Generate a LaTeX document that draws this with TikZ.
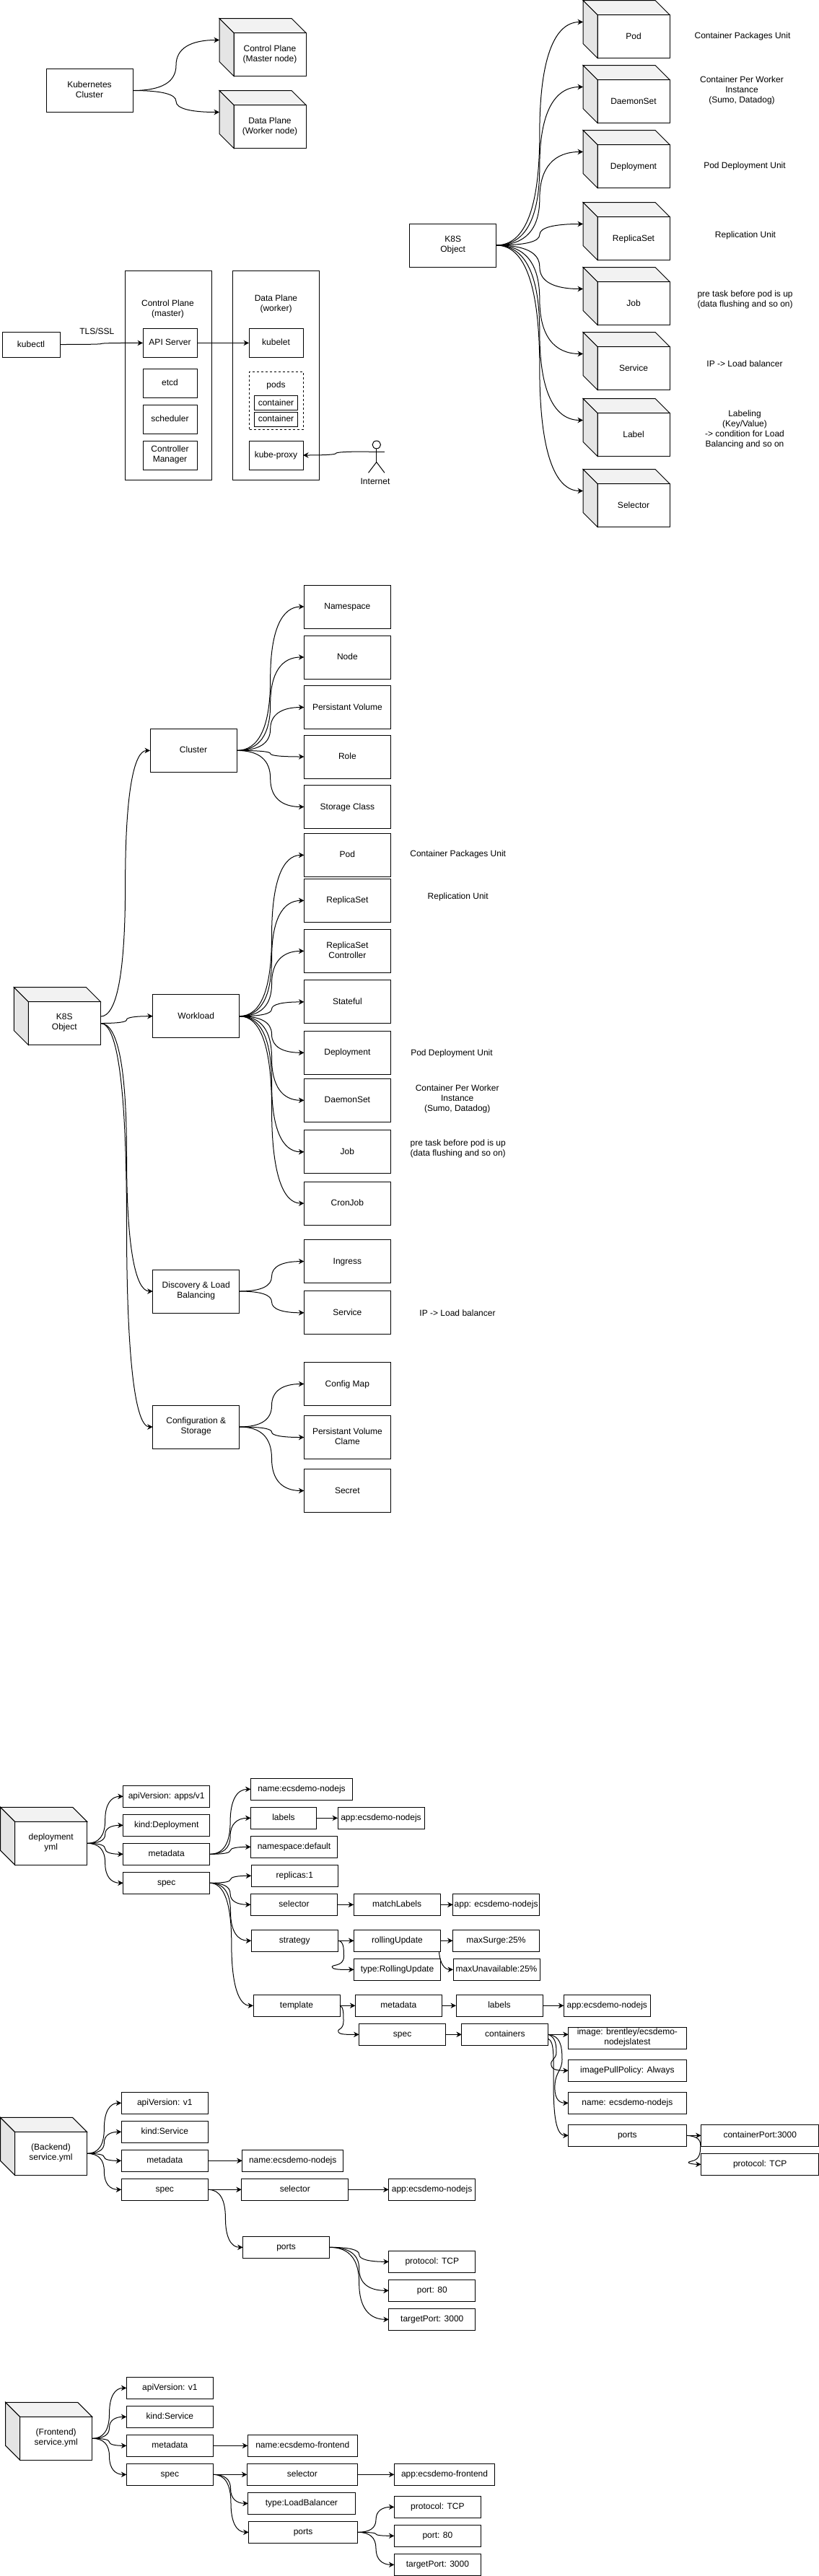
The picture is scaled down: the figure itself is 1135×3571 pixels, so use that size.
\documentclass[tikz,border=0pt]{standalone}
\usepackage{fontspec}
\setmainfont{Liberation Sans}
\usetikzlibrary{arrows.meta,positioning,calc}

\definecolor{cubeside}{gray}{0.9}
\definecolor{cubetop}{gray}{0.95}

\newcommand{\nodestrut}{\rule[-3.5pt]{0pt}{14pt}}

\tikzset{
    >={Stealth[length=7.5pt,width=7.5pt]},
    objbox/.style={rectangle, draw=black, line width=1pt, fill=white, align=center, anchor=north west,
        inner sep=0pt, outer sep=0pt, minimum width=120pt, minimum height=60pt},
    fieldbox/.style={objbox, minimum height=30pt},
    frontbox/.style={objbox, minimum width=100pt},
    notetext/.style={align=center},
    curvelink/.style={to path={
        let \p1=(\tikztostart), \p2=(\tikztotarget),
            \n1={0.5*(\x1+\x2)}, \n2={0.5*(\y1+\y2)} in
        .. controls ({\x1+0.667*(\n1-\x1)},\y1) and (\n1,{\n2+0.667*(\y1-\n2)}) .. (\n1,\n2)
        .. controls (\n1,{\n2+0.667*(\y2-\n2)}) and ({\x2+0.667*(\n1-\x2)},\y2) .. (\tikztotarget)}},
}

% side and top of a cube, around the front face #1
\newcommand{\cubefaces}[1]{
    \draw[fill=cubeside] (#1.north west) -- ++(-20pt,20pt) -- ++(0,-60pt) -- (#1.south west) -- cycle;
    \draw[fill=cubetop]  (#1.north west) -- ++(-20pt,20pt) -- ++(100pt,0) -- (#1.north east) -- cycle;
    \coordinate (#1_in) at ([shift={(-20pt,20pt)}]#1.west);
}

\begin{document}
\begin{tikzpicture}[x=1pt, y=-1pt, line width=1pt, every node/.style={font=\fontsize{12}{14}\selectfont,
        execute at begin node=\nodestrut, execute at end node=\nodestrut}]
    \useasboundingbox (0,0) rectangle (1135,3571);

    %Cluster overview
    \node (kube_cluster)      [objbox]   at (64,95.5)  {Kubernetes\\Cluster};
    \node (control_plane_cube) [frontbox] at (324,45.5) {Control Plane\\(Master node)};
    \node (data_plane_cube)   [frontbox, below=40pt of control_plane_cube] {Data Plane\\(Worker node)};
    \cubefaces{control_plane_cube}
    \cubefaces{data_plane_cube}
    \draw[->, curvelink] (kube_cluster.east) to (control_plane_cube_in);
    \draw[->, curvelink] (kube_cluster.east) to (data_plane_cube_in);

    %Master and worker
    \node (control_plane) [objbox, minimum height=290pt] at (173,375) {};
    \node (data_plane)    [objbox, minimum height=290pt] at (322.5,375) {};
    \node (control_plane_text) [notetext] at (232.5,428.6) {Control Plane\\(master)};
    \node (data_plane_text)    [notetext] at (382.5,421.4) {Data Plane\\(worker)};
    \node (kubectl) [objbox, minimum width=80pt, minimum height=35pt] at (3,460) {kubectl};
    \begin{scope}[every node/.append style={objbox, minimum width=75pt, minimum height=40pt}]
    \node (api_server) at (198,455.4)                {API Server};
    \node (etcd)       [below=15.6pt of api_server]  {etcd};
    \node (scheduler)  [below=10pt of etcd]          {scheduler};
    \node (manager)    [below=10pt of scheduler]     {Controller\\Manager};
    \node (kubelet)    at (345,455.4)                {kubelet};
    \node (kube_proxy) at (345,611)                  {kube-proxy};
    \end{scope}
    \node (pods) [objbox, dashed, minimum width=75pt, minimum height=79.4pt] at (345.5,515.6) {};
    \node (pods_text) at (382.5,534) {pods};
    \node (container_a) [objbox, minimum width=60pt, minimum height=20pt] at (352.5,548.6) {container};
    \node (container_b) [objbox, minimum width=60pt, minimum height=20pt, below=2.5pt of container_a] {container};
    \node (tls_text) at (134.3,460) {TLS/SSL};
    \node (internet_text) at (520,668) {Internet};
    \draw (521.8,616.5) ellipse [x radius=5.7pt, y radius=5.4pt];
    \draw (521.8,622) -- (521.8,640.6) (511,626) -- (533,626);
    \draw (510.5,655.4) -- (521.8,640.6) -- (533,655.4);
    \coordinate (actor_hand) at (511,626);
    \draw[->, curvelink] (kubectl.east) to (api_server.west);
    \draw[->] (api_server.east) -- (kubelet.west);
    \draw[->, curvelink] (actor_hand) to (kube_proxy.east);

    %Object cubes
    \node (object_root) [objbox] at (567.7,310) {K8S\\Object};
    \begin{scope}[every node/.append style={frontbox}]
    \node (pod_cube)        at (828,20.5)               {Pod};
    \node (daemonset_cube)  [below=30pt of pod_cube]    {DaemonSet};
    \node (deployment_cube) [below=30pt of daemonset_cube]  {Deployment};
    \node (replicaset_cube) [below=40pt of deployment_cube] {ReplicaSet};
    \node (job_cube)        [below=30pt of replicaset_cube] {Job};
    \node (service_cube)    [below=30pt of job_cube]    {Service};
    \node (label_cube)      [below=32pt of service_cube] {Label};
    \node (selector_cube)   [below=38pt of label_cube]  {Selector};
    \end{scope}
    \cubefaces{pod_cube}
    \cubefaces{daemonset_cube}
    \cubefaces{deployment_cube}
    \cubefaces{replicaset_cube}
    \cubefaces{job_cube}
    \cubefaces{service_cube}
    \cubefaces{label_cube}
    \cubefaces{selector_cube}
    \draw[->, curvelink] (object_root.east) to (pod_cube_in);
    \draw[->, curvelink] (object_root.east) to (daemonset_cube_in);
    \draw[->, curvelink] (object_root.east) to (deployment_cube_in);
    \draw[->, curvelink] (object_root.east) to (replicaset_cube_in);
    \draw[->, curvelink] (object_root.east) to (job_cube_in);
    \draw[->, curvelink] (object_root.east) to (service_cube_in);
    \draw[->, curvelink] (object_root.east) to (label_cube_in);
    \draw[->, curvelink] (object_root.east) to (selector_cube_in);

    % Text labels (outside nodes)
    \node (pod_note)        [notetext] at (1029,50.4)   {Container Packages Unit};
    \node (daemonset_note)  [notetext] at (1028,125.4)  {Container Per Worker\\Instance\\(Sumo, Datadog)};
    \node (deployment_note) [notetext] at (1032,229.5)  {Pod Deployment Unit};
    \node (replicaset_note) [notetext] at (1033,326)    {Replication Unit};
    \node (job_note)        [notetext] at (1032.6,415.6) {pre task before pod is up\\(data flushing and so on)};
    \node (service_note)    [notetext] at (1032,505)    {IP -> Load balancer};
    \node (label_note)      [notetext] at (1032,595.5)  {Labeling\\(Key/Value)\\-> condition for Load\\Balancing and so on};

    %Object groups
    \node (k8s_root) [frontbox] at (39.3,1388.5) {K8S\\Object};
    \cubefaces{k8s_root}
    \begin{scope}[every node/.append style={objbox}]
    \node (cluster_group)   at (208,1010.4)    {Cluster};
    \node (workload_group)  at (211.7,1378.7)  {Workload};
    \node (discovery_group) at (211.7,1760)    {Discovery \& Load\\Balancing};
    \node (config_group)    at (211.7,1948)    {Configuration \&\\Storage};

    \node (namespace_res) at (421.4,811)                  {Namespace};
    \node (node_res)      [below=10pt of namespace_res]   {Node};
    \node (volume_res)    [below=9.5pt of node_res]       {Persistant Volume};
    \node (role_res)      [below=8.5pt of volume_res]     {Role};
    \node (storage_res)   [below=9.5pt of role_res]       {Storage Class};

    \node (pod_res)        at (421.4,1155.4)              {Pod};
    \node (replicaset_res) [below=3pt of pod_res]         {ReplicaSet};
    \node (controller_res) [below=10pt of replicaset_res] {ReplicaSet\\Controller};
    \node (stateful_res)   [below=10.5pt of controller_res] {Stateful};
    \node (deployment_res) [below=10.4pt of stateful_res] {Deployment};
    \node (daemonset_res)  [below=6pt of deployment_res]  {DaemonSet};
    \node (job_res)        [below=11.5pt of daemonset_res] {Job};
    \node (cronjob_res)    [below=11.3pt of job_res]      {CronJob};

    \node (ingress_res) at (421.4,1718.6)                 {Ingress};
    \node (service_res) [below=11.2pt of ingress_res]     {Service};

    \node (configmap_res) at (421.4,1888.5)               {Config Map};
    \node (claim_res)     [below=14pt of configmap_res]   {Persistant Volume\\Clame};
    \node (secret_res)    [below=14pt of claim_res]       {Secret};
    \end{scope}

    \node (pod_res_note)        [notetext] at (634.7,1183.6) {Container Packages Unit};
    \node (replicaset_res_note) [notetext] at (634.7,1243.4) {Replication Unit};
    \node (deployment_res_note) [notetext] at (626,1459.7)   {Pod Deployment Unit};
    \node (daemonset_res_note)  [notetext] at (633.7,1524)   {Container Per Worker\\Instance\\(Sumo, Datadog)};
    \node (job_res_note)        [notetext] at (634.7,1592.8) {pre task before pod is up\\(data flushing and so on)};
    \node (service_res_note)    [notetext] at (634,1820.6)   {IP -> Load balancer};

    \coordinate (k8s_root_top) at ([yshift=9.4pt]k8s_root.east);
    \draw[->, curvelink] (k8s_root_top) to (cluster_group.west);
    \draw[->, curvelink] (k8s_root.east) to (workload_group.west);
    \draw[->, curvelink] (k8s_root.east) to (discovery_group.west);
    \draw[->, curvelink] (k8s_root.east) to (config_group.west);
    \draw[->, curvelink] (cluster_group.east) to (namespace_res.west);
    \draw[->, curvelink] (cluster_group.east) to (node_res.west);
    \draw[->, curvelink] (cluster_group.east) to (volume_res.west);
    \draw[->, curvelink] (cluster_group.east) to (role_res.west);
    \draw[->, curvelink] (cluster_group.east) to (storage_res.west);
    \draw[->, curvelink] (workload_group.east) to (pod_res.west);
    \draw[->, curvelink] (workload_group.east) to (replicaset_res.west);
    \draw[->, curvelink] (workload_group.east) to (controller_res.west);
    \draw[->, curvelink] (workload_group.east) to (stateful_res.west);
    \draw[->, curvelink] (workload_group.east) to (deployment_res.west);
    \draw[->, curvelink] (workload_group.east) to (daemonset_res.west);
    \draw[->, curvelink] (workload_group.east) to (job_res.west);
    \draw[->, curvelink] (workload_group.east) to (cronjob_res.west);
    \draw[->, curvelink] (discovery_group.east) to (ingress_res.west);
    \draw[->, curvelink] (discovery_group.east) to (service_res.west);
    \draw[->, curvelink] (config_group.east) to (configmap_res.west);
    \draw[->, curvelink] (config_group.east) to (claim_res.west);
    \draw[->, curvelink] (config_group.east) to (secret_res.west);

    %deployment yml
    \node (dp_cube) [frontbox] at (20.7,2525.3) {deployment\\yml};
    \cubefaces{dp_cube}
    \begin{scope}[every node/.append style={fieldbox}]
    \node (dp_api)      at (170.7,2475.3)            {apiVersion: apps/v1};
    \node (dp_kind)     [below=10pt of dp_api]       {kind:Deployment};
    \node (dp_metadata) [below=10pt of dp_kind]      {metadata};
    \node (dp_spec)     [below=10pt of dp_metadata]  {spec};

    \node (dp_name)       [minimum width=141pt] at (347.5,2465.3) {name:ecsdemo-nodejs};
    \node (dp_labels)     [minimum width=91pt]  at (347.5,2505.3) {labels};
    \node (dp_labels_app) [right=29.5pt of dp_labels]             {app:ecsdemo-nodejs};
    \node (dp_namespace)  at (347.5,2545.3)                       {namespace:default};
    \node (dp_replicas)   at (348.3,2585.3)                       {replicas:1};
    \node (dp_selector)   at (347.5,2625.3)                       {selector};
    \node (dp_match)      [right=22.6pt of dp_selector]           {matchLabels};
    \node (dp_match_app)  [right=17.5pt of dp_match]              {app: ecsdemo-nodejs};
    \node (dp_strategy)   at (348.3,2675.3)                       {strategy};
    \node (dp_rolling)    [right=22.2pt of dp_strategy]           {rollingUpdate};
    \node (dp_surge)      [right=17pt of dp_rolling]              {maxSurge:25\%};
    \node (dp_type)       [below=10pt of dp_rolling]              {type:RollingUpdate};
    \node (dp_unavail)    [right=17.5pt of dp_type]               {maxUnavailable:25\%};
    \node (dp_template)   at (351,2765.3)                         {template};
    \node (tp_metadata)   [right=21.4pt of dp_template]           {metadata};
    \node (tp_labels)     [right=19.6pt of tp_metadata]           {labels};
    \node (tp_app)        [right=29.3pt of tp_labels]             {app:ecsdemo-nodejs};
    \node (tp_spec)       at (497.6,2805.3)                       {spec};
    \node (tp_containers) [right=22.3pt of tp_spec]               {containers};
    \end{scope}
    \begin{scope}[every node/.append style={fieldbox, minimum width=163.3pt}]
    \node (ct_image) at (787.7,2810.3)          {image: brentley/ecsdemo-\\nodejslatest};
    \node (ct_pull)  [below=15pt of ct_image]   {imagePullPolicy: Always};
    \node (ct_name)  [below=15pt of ct_pull]    {name: ecsdemo-nodejs};
    \node (ct_ports) [below=15pt of ct_name]    {ports};
    \node (ct_port)  [right=20.6pt of ct_ports] {containerPort:3000};
    \node (ct_proto) [below=10pt of ct_port]    {protocol: TCP};
    \end{scope}

    \draw[->, curvelink] (dp_cube.east) to (dp_api.west);
    \draw[->, curvelink] (dp_cube.east) to (dp_kind.west);
    \draw[->, curvelink] (dp_cube.east) to (dp_metadata.west);
    \draw[->, curvelink] (dp_cube.east) to (dp_spec.west);
    \draw[->, curvelink] (dp_metadata.east) to (dp_name.west);
    \draw[->, curvelink] (dp_metadata.east) to (dp_labels.west);
    \draw[->, curvelink] (dp_metadata.east) to (dp_namespace.west);
    \draw[->] (dp_labels.east) -- (dp_labels_app.west);
    \draw[->, curvelink] (dp_spec.east) to (dp_replicas.west);
    \draw[->, curvelink] (dp_spec.east) to (dp_selector.west);
    \draw[->, curvelink] (dp_spec.east) to (dp_strategy.west);
    \draw[->, curvelink] (dp_spec.east) to (dp_template.west);
    \draw[->] (dp_selector.east) -- (dp_match.west);
    \draw[->] (dp_match.east) -- (dp_match_app.west);
    \draw[->] (dp_strategy.east) -- (dp_rolling.west);
    \draw[->] (dp_rolling.east) -- (dp_surge.west);
    \draw[->] (dp_strategy.east) .. controls (476.5,2690.3) and (476.5,2702) .. (476.5,2712)
        .. controls (476.5,2728) and (456,2722) .. (461,2728) .. controls (464,2731) and (480,2730.3) .. (dp_type.west);
    \draw[->] ([xshift=-2pt]dp_rolling.south east) .. controls (609.5,2722) and (616,2730.3) .. (dp_unavail.west);
    \draw[->] (dp_template.east) -- (tp_metadata.west);
    \draw[->] (tp_metadata.east) -- (tp_labels.west);
    \draw[->] (tp_labels.east) -- (tp_app.west);
    \draw[->] (dp_template.east) .. controls (476,2782) and (476,2790) .. (476,2802)
        .. controls (476,2815) and (466,2812) .. (469,2817) .. controls (471,2821) and (485,2820.3) .. (tp_spec.west);
    \draw[->] (tp_spec.east) -- (tp_containers.west);

    %Lines from containers
    \draw[->] (tp_containers.east) -- (tp_containers.east -| ct_image.west);
    \draw[->] (tp_containers.east) .. controls (769,2824) and (771,2832) .. (771,2845)
        .. controls (771,2855) and (762,2855) .. (764,2863) .. controls (765,2870) and (775,2870.3) .. (ct_pull.west);
    \draw[->] (tp_containers.east) .. controls (776,2822) and (779,2835) .. (779,2855)
        .. controls (779,2870) and (770,2872) .. (769,2890) .. controls (768,2905) and (772,2915.3) .. (ct_name.west);
    \draw[->] ([yshift=-6pt]tp_containers.east) .. controls (768,2830) and (767,2850) .. (767,2880)
        .. controls (767,2920) and (768,2960.3) .. (ct_ports.west);
    \draw[->] (ct_ports.east) -- (ct_port.west);
    \draw[->] (ct_ports.east) .. controls (966,2961) and (970.8,2966) .. (970.8,2974)
        .. controls (970.8,2988) and (968,2994) .. (958,2996) .. controls (948,2998) and (960,3000.3) .. (ct_proto.west);

    %(Backend) service yml
    \node (bs_cube) [frontbox] at (20.5,2955.3) {(Backend)\\service.yml};
    \cubefaces{bs_cube}
    \begin{scope}[every node/.append style={fieldbox}]
    \node (bs_api)      at (168.3,2900.3)           {apiVersion: v1};
    \node (bs_kind)     [below=10pt of bs_api]      {kind:Service};
    \node (bs_metadata) [below=10pt of bs_kind]     {metadata};
    \node (bs_spec)     [below=10pt of bs_metadata] {spec};
    \node (bs_name)     [minimum width=140pt, right=47.4pt of bs_metadata] {name:ecsdemo-nodejs};
    \node (bs_selector) [minimum width=148pt, right=46.5pt of bs_spec]     {selector};
    \node (bs_app)      [right=55.8pt of bs_selector]                      {app:ecsdemo-nodejs};
    \node (bs_ports)    at (336.6,3100.3)           {ports};
    \node (bs_proto)    at (538.8,3120.3)           {protocol: TCP};
    \node (bs_port)     [below=10pt of bs_proto]    {port: 80};
    \node (bs_target)   [below=10pt of bs_port]     {targetPort: 3000};
    \end{scope}
    \draw[->, curvelink] (bs_cube.east) to (bs_api.west);
    \draw[->, curvelink] (bs_cube.east) to (bs_kind.west);
    \draw[->, curvelink] (bs_cube.east) to (bs_metadata.west);
    \draw[->, curvelink] (bs_cube.east) to (bs_spec.west);
    \draw[->] (bs_metadata.east) -- (bs_name.west);
    \draw[->] (bs_spec.east) -- (bs_selector.west);
    \draw[->] (bs_selector.east) -- (bs_app.west);
    \draw[->, curvelink] (bs_spec.east) to (bs_ports.west);
    \draw[->, curvelink] (bs_ports.east) to (bs_proto.west);
    \draw[->, curvelink] (bs_ports.east) to (bs_port.west);
    \draw[->, curvelink] (bs_ports.east) to (bs_target.west);

    %(Frontend) service yml
    \node (fs_cube) [frontbox] at (27.7,3350.3) {(Frontend)\\service.yml};
    \cubefaces{fs_cube}
    \begin{scope}[every node/.append style={fieldbox}]
    \node (fs_api)      at (175.4,3295.3)           {apiVersion: v1};
    \node (fs_kind)     [below=10pt of fs_api]      {kind:Service};
    \node (fs_metadata) [below=10pt of fs_kind]     {metadata};
    \node (fs_spec)     [below=10pt of fs_metadata] {spec};
    \node (fs_name)     [minimum width=152pt, right=47.9pt of fs_metadata] {name:ecsdemo-frontend};
    \node (fs_selector) [minimum width=153pt, right=47pt of fs_spec]       {selector};
    \node (fs_app)      [minimum width=139.3pt, right=51pt of fs_selector] {app:ecsdemo-frontend};
    \node (fs_type)     [minimum width=148.2pt] at (343.8,3455.3)          {type:LoadBalancer};
    \node (fs_ports)    [minimum width=151pt] at (344.6,3495.3)            {ports};
    \node (fs_proto)    at (546.4,3460.3)           {protocol: TCP};
    \node (fs_port)     [below=10pt of fs_proto]    {port: 80};
    \node (fs_target)   [below=10pt of fs_port]     {targetPort: 3000};
    \end{scope}
    \draw[->, curvelink] (fs_cube.east) to (fs_api.west);
    \draw[->, curvelink] (fs_cube.east) to (fs_kind.west);
    \draw[->, curvelink] (fs_cube.east) to (fs_metadata.west);
    \draw[->, curvelink] (fs_cube.east) to (fs_spec.west);
    \draw[->] (fs_metadata.east) -- (fs_name.west);
    \draw[->] (fs_spec.east) -- (fs_selector.west);
    \draw[->] (fs_selector.east) -- (fs_app.west);
    \draw[->, curvelink] (fs_spec.east) to (fs_type.west);
    \draw[->, curvelink] (fs_spec.east) to (fs_ports.west);
    \draw[->, curvelink] (fs_ports.east) to (fs_proto.west);
    \draw[->, curvelink] (fs_ports.east) to (fs_port.west);
    \draw[->, curvelink] (fs_ports.east) to (fs_target.west);
\end{tikzpicture}
\end{document}
